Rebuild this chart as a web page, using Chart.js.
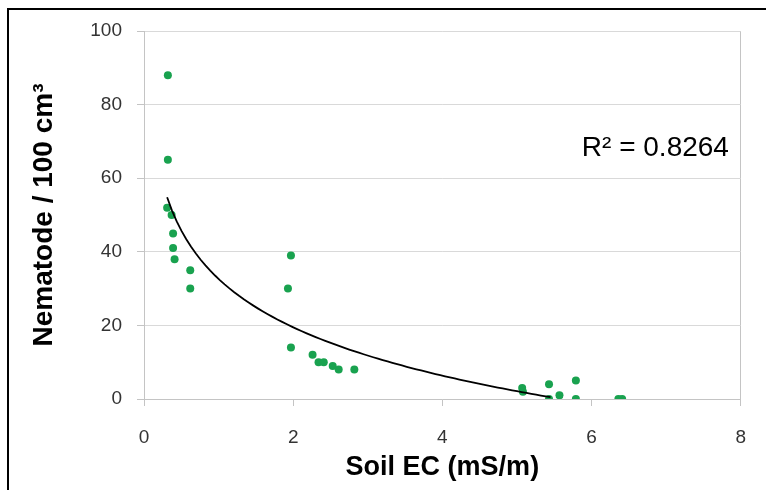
<!DOCTYPE html>
<html>
<head>
<meta charset="utf-8">
<script src="https://cdn.jsdelivr.net/npm/chart.js@4.4.0/dist/chart.umd.min.js"></script>
<style>
  html, body { margin: 0; padding: 0; background: #fff; }
  #wrap { position: relative; width: 766px; height: 490px; overflow: hidden; }
  #frame { position: absolute; left: 7px; top: 8px; width: 800px; height: 520px;
           border: 2px solid #000; pointer-events: none; }
</style>
</head>
<body>
<div id="wrap">
  <canvas id="ecChart" width="766" height="490"></canvas>
  <div id="frame"></div>
</div>
<script>
// valores
const soilEC    = [0.32, 0.32, 0.31, 0.37, 0.39, 0.39, 0.41, 0.62, 0.62,
                   1.97, 1.93, 1.97, 2.26, 2.34, 2.41, 2.53, 2.61, 2.82,
                   5.07, 5.08, 5.43, 5.43, 5.57, 5.79, 5.79, 6.36, 6.41];
const nematodes = [88, 65, 52, 50, 45, 41, 38, 35, 30,
                   39, 30, 14, 12, 10, 10, 9, 8, 8,
                   3, 2, 4, 0, 1, 5, 0, 0, 0];
const xTicks = [0, 2, 4, 6, 8];
const yTicks = [0, 20, 40, 60, 80, 100];
const rSquared = '0.8264';
const trendEndX = 5.45;

// ajuste logarítmico y = a*ln(x) + b (mínimos quadrados sobre os dados)
const lnX = soilEC.map(v => Math.log(v));
const n = soilEC.length;
const mL = lnX.reduce((s, v) => s + v, 0) / n;
const mY = nematodes.reduce((s, v) => s + v, 0) / n;
let sxy = 0, sxx = 0;
lnX.forEach((l, i) => { sxy += (l - mL) * (nematodes[i] - mY); sxx += (l - mL) * (l - mL); });
const fitA = sxy / sxx;
const fitB = mY - fitA * mL;

const minX = Math.min(...soilEC);
const trendPoints = [];
for (let i = 0; i <= 80; i++) {
    const x = minX + (trendEndX - minX) * i / 80;
    trendPoints.push({ x: x, y: fitA * Math.log(x) + fitB });
}

const points = soilEC.map((x, i) => ({ x: x, y: nematodes[i] }));

const axisGray = '#c4c4c4';
const gridGray = '#d9d9d9';
const tickFont = { family: '"Liberation Sans", Arial, sans-serif', size: 19 };

const r2Label = {
    id: 'r2Label',
    afterDatasetsDraw(chart) {
        const { ctx, scales } = chart;
        ctx.save();
        ctx.font = '28px "Liberation Sans", Arial, sans-serif';
        ctx.fillStyle = '#000';
        ctx.textBaseline = 'middle';
        ctx.fillText('R² = ' + rSquared, scales.x.getPixelForValue(5.87), scales.y.getPixelForValue(68));
        ctx.restore();
    }
};

const ctx = document.getElementById('ecChart').getContext('2d');
new Chart(ctx, {
    type: 'scatter',
    data: {
        datasets: [{
            label: 'Tendência',
            data: trendPoints,
            showLine: true,
            borderColor: '#000',
            borderWidth: 1.8,
            pointRadius: 0,
            tension: 0,
            order: 0
        }, {
            label: 'Nematoides',
            data: points,
            backgroundColor: '#19a24f',
            borderWidth: 0,
            pointRadius: 4,
            order: 1
        }]
    },
    options: {
        responsive: false,
        animation: false,
        layout: { padding: { left: 0, right: 24, top: 31, bottom: 0 } },
        plugins: { legend: { display: false }, tooltip: { enabled: false } },
        scales: {
            x: {
                type: 'linear',
                min: 0, max: 8,
                afterBuildTicks: s => { s.ticks = xTicks.map(v => ({ value: v })); },
                afterFit: s => { s.height = 91; },
                ticks: { font: tickFont, color: '#333', padding: 20 },
                grid: {
                    color: c => (c.tick && c.tick.value === 8) ? axisGray : 'transparent',
                    tickColor: axisGray,
                    tickLength: 7
                },
                border: { color: axisGray },
                title: {
                    display: true,
                    text: 'Soil EC (mS/m)',
                    color: '#000',
                    font: { family: '"Liberation Sans", Arial, sans-serif', size: 27, weight: 'bold' },
                    padding: { top: 0, bottom: 6 }
                }
            },
            y: {
                min: 0, max: 100,
                afterBuildTicks: s => { s.ticks = yTicks.map(v => ({ value: v })); },
                afterFit: s => { s.width = 144; },
                ticks: { font: tickFont, color: '#333', padding: 15 },
                grid: { color: gridGray, tickColor: axisGray, tickLength: 7 },
                border: { color: axisGray },
                title: {
                    display: true,
                    text: 'Nematode / 100 cm³',
                    color: '#000',
                    font: { family: '"Liberation Sans", Arial, sans-serif', size: 28, weight: 'bold' },
                    padding: { top: 27, bottom: 0 }
                }
            }
        }
    },
    plugins: [r2Label]
});
</script>
</body>
</html>
